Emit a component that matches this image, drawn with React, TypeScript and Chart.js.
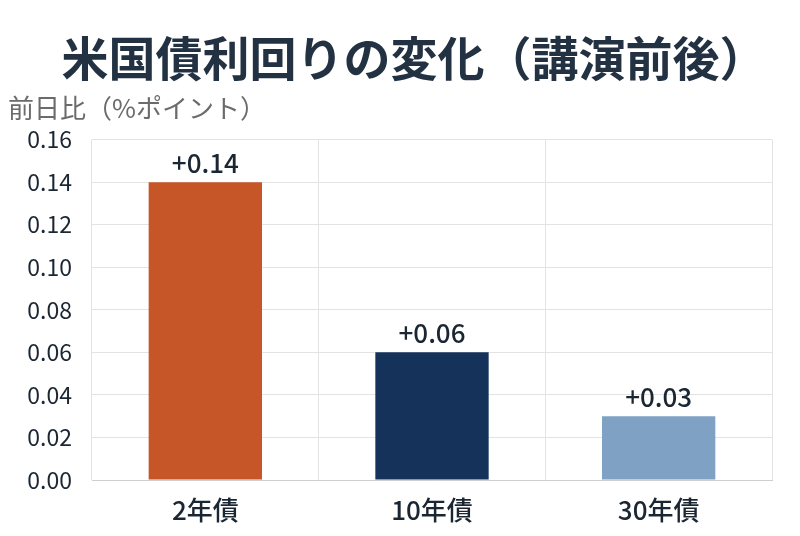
import { useEffect, useRef } from "react";
import { Chart, ChartConfiguration, Plugin, registerables } from "chart.js";

Chart.register(...registerables);

const titleText = "米国債利回りの変化（講演前後）";
const categories = ["2年債", "10年債", "30年債"];
const changes = [0.14, 0.06, 0.03];
const barColors = ["#C65627", "#15325A", "#7FA2C4"];
const valueLabels = ["+0.14", "+0.06", "+0.03"];

const FONT = "'Noto Sans CJK JP', 'Noto Sans', sans-serif";

// writes the +value text above each bar
const barLabels: Plugin<"bar"> = {
  id: "barLabels",
  afterDatasetsDraw(chart) {
    const ctx = chart.ctx;
    const meta = chart.getDatasetMeta(0);
    ctx.save();
    ctx.font = `500 26px ${FONT}`;
    ctx.fillStyle = "#1B2633";
    ctx.textAlign = "center";
    ctx.textBaseline = "bottom";
    meta.data.forEach((bar, i) => {
      ctx.fillText(valueLabels[i], bar.x, bar.y - 6);
    });
    ctx.restore();
  },
};

// the built-in title only keeps the room; the headline is drawn here so it sits centred on the page
const headline: Plugin<"bar"> = {
  id: "headline",
  afterDraw(chart) {
    const box = (chart as any).titleBlock;
    if (!box) return;
    const ctx = chart.ctx;
    ctx.save();
    ctx.font = `bold 47px ${FONT}`;
    ctx.fillStyle = "#233243";
    ctx.textAlign = "center";
    ctx.textBaseline = "middle";
    ctx.fillText(titleText, chart.width / 2 + 14, box.top + box.height / 2 + 3);
    ctx.restore();
  },
};

export default function App() {
  const chartRef = useRef<HTMLCanvasElement>(null);
  const chartInstance = useRef<Chart | null>(null);

  useEffect(() => {
    document.body.style.margin = "0";
    if (!chartRef.current) return;
    if (chartInstance.current) chartInstance.current.destroy();
    const ctx = chartRef.current.getContext("2d");
    if (!ctx) return;

    const config: ChartConfiguration<"bar"> = {
      type: "bar",
      data: {
        labels: categories,
        datasets: [
          {
            data: changes,
            backgroundColor: barColors,
            borderWidth: 0,
            barPercentage: 0.5,
            categoryPercentage: 1,
          },
        ],
      },
      options: {
        responsive: true,
        maintainAspectRatio: false,
        animation: false,
        layout: { padding: { left: 8, right: 28, top: 20, bottom: 0 } },
        plugins: {
          legend: { display: false },
          tooltip: { enabled: false },
          title: {
            display: true,
            text: titleText,
            color: "rgba(0,0,0,0)",
            font: { family: FONT, size: 47, weight: "bold" },
            padding: { top: 10, bottom: 4 },
          },
          subtitle: {
            display: true,
            text: "前日比（%ポイント）",
            align: "start",
            color: "#6B6B6B",
            font: { family: FONT, size: 26 },
            padding: { top: 2, bottom: 16 },
          },
        },
        scales: {
          y: {
            min: 0,
            max: 0.16,
            afterFit: (scale) => {
              scale.width = 84;
            },
            ticks: {
              stepSize: 0.02,
              color: "#1B2633",
              font: { family: FONT, size: 23 },
              padding: 20,
              callback: (v) => Number(v).toFixed(2),
            },
            grid: { color: "#E3E3E3", drawTicks: false },
            border: { display: false },
          },
          x: {
            afterFit: (scale) => {
              scale.height = 56;
            },
            ticks: {
              color: "#1B2633",
              font: { family: FONT, size: 26, weight: 500 },
              padding: 15,
            },
            grid: { color: "#E3E3E3", offset: true, drawTicks: false },
            border: { color: "#CFCFCF" },
          },
        },
      },
      plugins: [barLabels, headline],
    };

    chartInstance.current = new Chart(ctx, config);
    return () => {
      if (chartInstance.current) {
        chartInstance.current.destroy();
        chartInstance.current = null;
      }
    };
  }, []);

  return (
    <div style={{ width: 800, height: 536, position: "relative", background: "#fff" }}>
      <canvas ref={chartRef} />
    </div>
  );
}
